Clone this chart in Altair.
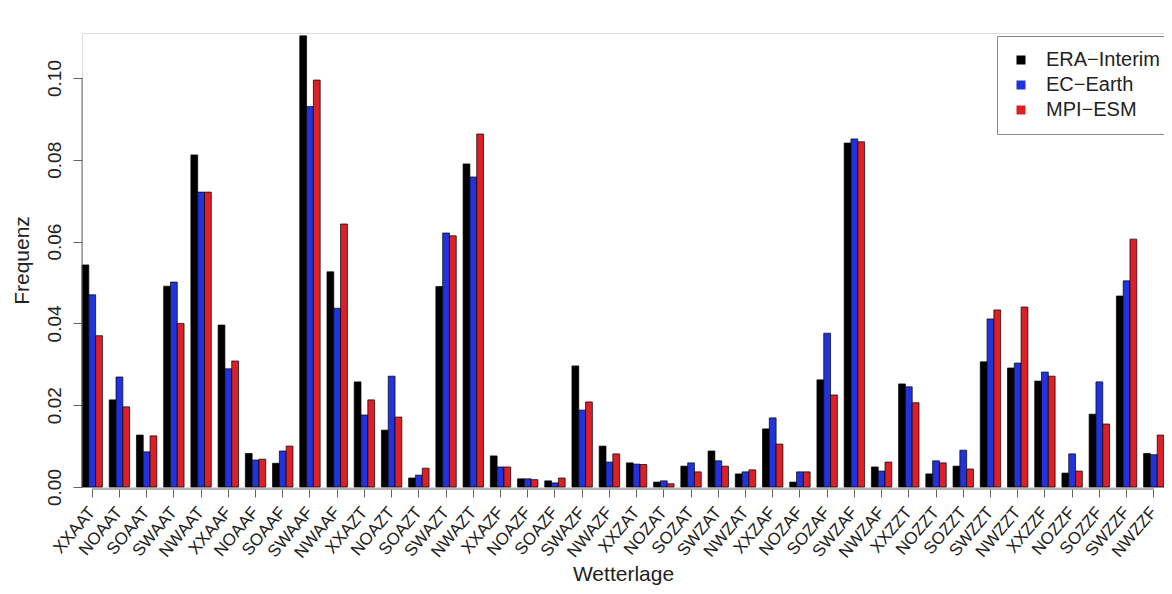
import altair as alt
import pandas as pd

cats = ["XXAAT", "NOAAT", "SOAAT", "SWAAT", "NWAAT", "XXAAF", "NOAAF", "SOAAF", "SWAAF", "NWAAF",
        "XXAZT", "NOAZT", "SOAZT", "SWAZT", "NWAZT", "XXAZF", "NOAZF", "SOAZF", "SWAZF", "NWAZF",
        "XXZAT", "NOZAT", "SOZAT", "SWZAT", "NWZAT", "XXZAF", "NOZAF", "SOZAF", "SWZAF", "NWZAF",
        "XXZZT", "NOZZT", "SOZZT", "SWZZT", "NWZZT", "XXZZF", "NOZZF", "SOZZF", "SWZZF", "NWZZF"]

era = [0.0543, 0.0213, 0.0127, 0.0491, 0.0812, 0.0396, 0.0082, 0.0058, 0.1103, 0.0526,
       0.0257, 0.0139, 0.0022, 0.0490, 0.0790, 0.0076, 0.0020, 0.0015, 0.0296, 0.0100,
       0.0059, 0.0012, 0.0051, 0.0088, 0.0032, 0.0142, 0.0012, 0.0262, 0.0841, 0.0049,
       0.0252, 0.0032, 0.0051, 0.0306, 0.0291, 0.0259, 0.0034, 0.0178, 0.0467, 0.0082]
ec = [0.0470, 0.0269, 0.0086, 0.0501, 0.0721, 0.0289, 0.0066, 0.0088, 0.0930, 0.0437,
      0.0176, 0.0271, 0.0029, 0.0621, 0.0758, 0.0049, 0.0020, 0.0010, 0.0188, 0.0061,
      0.0056, 0.0015, 0.0059, 0.0064, 0.0037, 0.0169, 0.0037, 0.0376, 0.0851, 0.0039,
      0.0245, 0.0064, 0.0090, 0.0411, 0.0303, 0.0281, 0.0081, 0.0257, 0.0504, 0.0079]
mpi = [0.0370, 0.0196, 0.0125, 0.0400, 0.0721, 0.0308, 0.0068, 0.0100, 0.0995, 0.0643,
       0.0213, 0.0171, 0.0046, 0.0614, 0.0863, 0.0049, 0.0018, 0.0022, 0.0208, 0.0081,
       0.0055, 0.0008, 0.0037, 0.0051, 0.0042, 0.0105, 0.0037, 0.0225, 0.0844, 0.0061,
       0.0206, 0.0059, 0.0044, 0.0433, 0.0440, 0.0271, 0.0039, 0.0154, 0.0606, 0.0127]

series = ["ERA\u2212Interim", "EC\u2212Earth", "MPI\u2212ESM"]
colors = ["#000000", "#2233dd", "#dd1f26"]
y_ticks = [0.00, 0.02, 0.04, 0.06, 0.08, 0.10]

rows = []
for name, vals in zip(series, [era, ec, mpi]):
    for c, v in zip(cats, vals):
        rows.append({"Wetterlage": c, "Modell": name, "Frequenz": v})
df = pd.DataFrame(rows)

FONT = "Liberation Sans"
W, H = 1082, 454

x_scale = alt.Scale(domain=cats, paddingInner=0.25, paddingOuter=0)
y_scale = alt.Scale(domain=[0, 0.111], nice=False, zero=True)

bars = alt.Chart(df).mark_bar(stroke="black", strokeWidth=0.7).encode(
    x=alt.X("Wetterlage:N", sort=cats, scale=x_scale,
            axis=alt.Axis(title="Wetterlage", labelAngle=-50, labelAlign="right",
                          labelBaseline="middle", labelFontSize=17, labelPadding=12,
                          labelFont=FONT, labelColor="#222", tickSize=8, tickColor="#666",
                          domain=False, offset=2, bandPosition=0.5,
                          titleFontSize=21, titleFont=FONT, titleFontWeight="normal",
                          titleColor="#222", titlePadding=3, labelOverlap=False)),
    xOffset=alt.XOffset("Modell:N", sort=series,
                        scale=alt.Scale(domain=series, paddingInner=0, paddingOuter=0)),
    y=alt.Y("Frequenz:Q", scale=y_scale,
            axis=alt.Axis(title="Frequenz", values=y_ticks, format=".2f", labelAngle=-90,
                          labelAlign="center", labelBaseline="bottom", labelFontSize=19,
                          labelFont=FONT, labelColor="#222", labelPadding=9, tickSize=9,
                          tickColor="#666", domain=False, grid=False,
                          titleFontSize=21, titleFont=FONT, titleFontWeight="normal",
                          titleColor="#222", titlePadding=13)),
    color=alt.Color("Modell:N", sort=series, scale=alt.Scale(domain=series, range=colors),
                    legend=alt.Legend(title=None, orient="none", legendX=915, legendY=3,
                                      symbolType="square", symbolSize=81, symbolStrokeWidth=0,
                                      labelFontSize=20, labelFont=FONT, labelColor="#222",
                                      padding=14, rowPadding=5, labelOffset=15,
                                      strokeColor="#888", fillColor="white")),
)

axis_df = pd.DataFrame({"k": [0]})
y_line = alt.Chart(axis_df).mark_rule(color="#666", strokeWidth=1).encode(
    x=alt.value(0),
    y=alt.datum(y_ticks[0], scale=y_scale),
    y2=alt.datum(y_ticks[-1]),
)
x_line = alt.Chart(axis_df).mark_rule(color="#666", strokeWidth=1).encode(
    x=alt.datum(cats[0], type="nominal", scale=x_scale, bandPosition=0.5),
    x2=alt.datum(cats[-1], bandPosition=0.5),
    y=alt.value(H + 2),
)

chart = alt.layer(bars, y_line, x_line).properties(
    width=W, height=H,
    padding={"left": 74, "top": 25, "right": 0, "bottom": 99},
    autosize=alt.AutoSizeParams(type="none"),
).configure_view(stroke=None).configure(background="white")

chart.save("out.html", embed_options={"renderer": "svg", "actions": False})
